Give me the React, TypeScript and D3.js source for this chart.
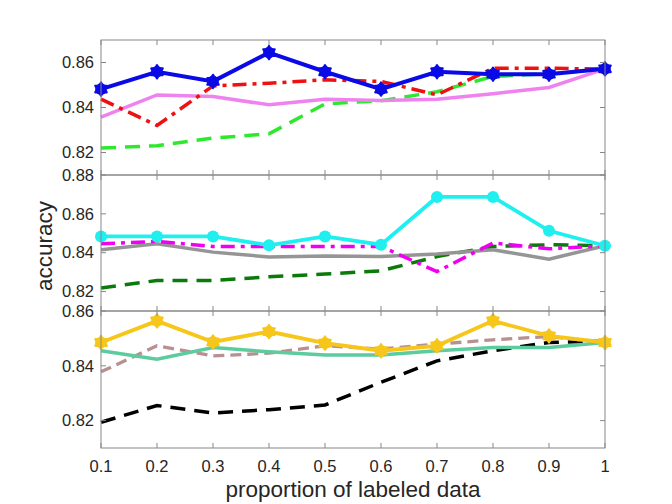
import React from "react";
import * as d3 from "d3";

const xs = [0.1, 0.2, 0.3, 0.4, 0.5, 0.6, 0.7, 0.8, 0.9, 1.0];
const xTickLabels = ["0.1", "0.2", "0.3", "0.4", "0.5", "0.6", "0.7", "0.8", "0.9", "1"];

// Top panel
const topGreen = [0.822, 0.823, 0.8264, 0.8283, 0.8416, 0.843, 0.847, 0.8538, 0.855, 0.857];
const topViolet = [0.8357, 0.8456, 0.8449, 0.8412, 0.8437, 0.8431, 0.8437, 0.8461, 0.8489, 0.8572];
const topRed = [0.8437, 0.832, 0.8496, 0.8508, 0.8523, 0.8516, 0.8456, 0.8575, 0.8575, 0.857];
const topBlue = [0.8482, 0.8559, 0.8516, 0.8644, 0.8559, 0.8482, 0.8559, 0.8548, 0.8548, 0.8572];

// Middle panel
const midGreen = [0.8218, 0.8257, 0.8257, 0.8276, 0.829, 0.8307, 0.838, 0.8432, 0.8441, 0.8436];
const midGray = [0.8415, 0.8446, 0.8403, 0.8378, 0.8383, 0.8381, 0.8393, 0.8415, 0.8367, 0.8436];
const midMagenta = [0.8446, 0.8458, 0.8432, 0.8432, 0.8432, 0.8432, 0.8303, 0.845, 0.842, 0.8436];
const midCyan = [0.8484, 0.8484, 0.8484, 0.8438, 0.8484, 0.8441, 0.8687, 0.8687, 0.8513, 0.8436];

// Bottom panel
const botBlack = [0.8194, 0.8255, 0.8228, 0.824, 0.8257, 0.834, 0.8418, 0.8455, 0.8485, 0.849];
const botRosy = [0.8378, 0.8473, 0.8436, 0.8446, 0.8473, 0.8461, 0.8479, 0.8495, 0.8507, 0.8485];
const botTeal = [0.8455, 0.8424, 0.8467, 0.8451, 0.8439, 0.8439, 0.8455, 0.8467, 0.8467, 0.8485];
const botGold = [0.8485, 0.8564, 0.8487, 0.8525, 0.8483, 0.8455, 0.8473, 0.8564, 0.8509, 0.8485];

const topTicks = [0.82, 0.84, 0.86];
const midTicks = [0.82, 0.84, 0.86, 0.88];
const botTicks = [0.82, 0.84, 0.86];

type Series = { values: number[]; color: string; width: number; dash?: string; marker?: "hex" | "circle" };

const panels: { y0: number; y1: number; domain: [number, number]; ticks: number[]; series: Series[] }[] = [
  {
    y0: 40, y1: 175, domain: [0.81, 0.87], ticks: topTicks,
    series: [
      { values: topGreen, color: "#2ee82e", width: 3.5, dash: "15,9" },
      { values: topViolet, color: "#ee82ee", width: 3.5 },
      { values: topRed, color: "#ee1111", width: 3.5, dash: "14,6,4,6" },
      { values: topBlue, color: "#0a0ae6", width: 4, marker: "hex" },
    ],
  },
  {
    y0: 175, y1: 311, domain: [0.81, 0.88], ticks: midTicks,
    series: [
      { values: midGreen, color: "#0a7a0a", width: 3.5, dash: "15,9" },
      { values: midGray, color: "#959595", width: 3.5 },
      { values: midMagenta, color: "#f000f0", width: 3.5, dash: "14,6,4,6" },
      { values: midCyan, color: "#1fefef", width: 3.8, marker: "circle" },
    ],
  },
  {
    y0: 311, y1: 448, domain: [0.81, 0.86], ticks: botTicks,
    series: [
      { values: botBlack, color: "#000000", width: 3.5, dash: "15,9" },
      { values: botRosy, color: "#b89090", width: 3.3, dash: "11,6" },
      { values: botTeal, color: "#5ccc9e", width: 3.5 },
      { values: botGold, color: "#f7c61a", width: 3.8, marker: "hex" },
    ],
  },
];

const X0 = 101;
const X1 = 605;
const AX = "#878787";
const TXT = "#262626";
const FONT = "'Liberation Sans', Arial, Helvetica, sans-serif";

function hexagram(cx: number, cy: number, R: number): string {
  const r = R / Math.sqrt(3);
  const pts: string[] = [];
  for (let i = 0; i < 12; i++) {
    const a = (Math.PI / 6) * i - Math.PI / 2;
    const rr = i % 2 === 0 ? R : r;
    pts.push(`${cx + rr * Math.cos(a)},${cy + rr * Math.sin(a)}`);
  }
  return "M" + pts.join("L") + "Z";
}

export default function App() {
  const x = d3.scaleLinear().domain([0.1, 1]).range([X0, X1]);
  return (
    <svg width={672} height={504} style={{ position: "absolute", left: 0, top: 0, background: "#fff" }}>
      <rect x={0} y={0} width={672} height={504} fill="#fff" />
      {panels.map((p, pi) => {
        const y = d3.scaleLinear().domain(p.domain).range([p.y1, p.y0]);
        const line = d3.line<number>().x((_, i) => x(xs[i])).y((v) => y(v));
        return (
          <g key={pi}>
            {p.series.map((s, si) => (
              <g key={si}>
                <path d={line(s.values) || ""} fill="none" stroke={s.color} strokeWidth={s.width}
                  strokeDasharray={s.dash} strokeLinejoin="miter" />
                {s.marker === "hex" && s.values.map((v, i) => (
                  <g key={i}>
                    <circle cx={x(xs[i])} cy={y(v)} r={5.8} fill={s.color} />
                    <path d={hexagram(x(xs[i]), y(v), 6.6)} fill={s.color} stroke={s.color} strokeWidth={2.2} strokeLinejoin="round" />
                  </g>
                ))}
                {s.marker === "circle" && s.values.map((v, i) => (
                  <circle key={i} cx={x(xs[i])} cy={y(v)} r={6} fill={s.color} />
                ))}
              </g>
            ))}
            <rect x={X0} y={p.y0} width={X1 - X0} height={p.y1 - p.y0} fill="none" stroke={AX} strokeWidth={1} />
            {xs.map((t, i) => (
              <g key={"xt" + i}>
                <line x1={x(t)} x2={x(t)} y1={p.y0} y2={p.y0 + 5} stroke={AX} />
                <line x1={x(t)} x2={x(t)} y1={p.y1} y2={p.y1 - 5} stroke={AX} />
              </g>
            ))}
            {p.ticks.map((t, i) => (
              <g key={"yt" + i}>
                <line x1={X0} x2={X0 + 5} y1={y(t)} y2={y(t)} stroke={AX} />
                <line x1={X1} x2={X1 - 5} y1={y(t)} y2={y(t)} stroke={AX} />
                <text x={94} y={y(t)} dy="0.35em" textAnchor="end" fontSize={16.5} fill={TXT} fontFamily={FONT}>
                  {t.toFixed(2)}
                </text>
              </g>
            ))}
          </g>
        );
      })}
      {xs.map((t, i) => (
        <text key={"xl" + i} x={x(t)} y={472} textAnchor="middle" fontSize={16.5} fill={TXT} fontFamily={FONT}>
          {xTickLabels[i]}
        </text>
      ))}
      <text x={353} y={497} textAnchor="middle" fontSize={22.5} fill={TXT} fontFamily={FONT}>
        proportion of labeled data
      </text>
      <text transform="translate(52,246) rotate(-90)" textAnchor="middle" fontSize={22.5} fill={TXT} fontFamily={FONT}>
        accuracy
      </text>
    </svg>
  );
}
